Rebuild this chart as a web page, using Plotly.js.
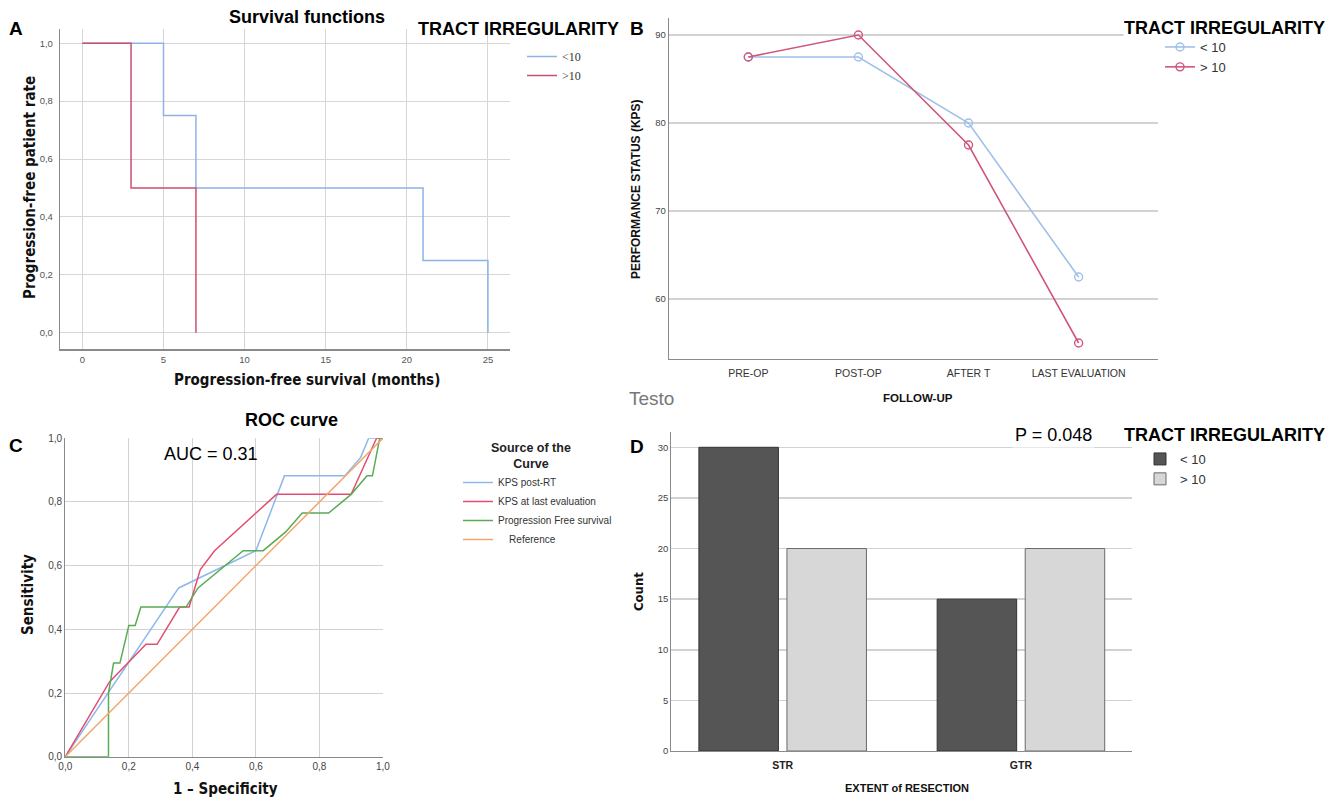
<!DOCTYPE html>
<html>
<head>
<meta charset="utf-8">
<script src="https://cdn.plot.ly/plotly-3.0.1.min.js"></script>
<style>html,body{margin:0;padding:0;background:#fff;}#chart{width:1339px;height:798px;}</style>
</head>
<body>
<div id="chart"></div>
<script>
// ---------- Panel A: Kaplan-Meier survival ----------
const kmLowTime = [0, 5, 7, 21, 25];
const kmLowSurv = [1.0, 0.75, 0.5, 0.25, 0.0];
const kmHighTime = [0, 3, 7];
const kmHighSurv = [1.0, 0.5, 0.0];
const groupNamesA = ['&lt;10', '&gt;10'];

// ---------- Panel B: KPS over follow-up ----------
const followUp = ['PRE-OP', 'POST-OP', 'AFTER T', 'LAST EVALUATION'];
const kpsLow = [87.5, 87.5, 80, 62.5];
const kpsHigh = [87.5, 90, 77.5, 55];
const groupNamesB = ['&lt; 10', '&gt; 10'];

// ---------- Panel C: ROC curves ----------
const rocPostRT_x = [0, 0.357, 0.6, 0.69, 0.88, 0.93, 0.955, 1.0];
const rocPostRT_y = [0, 0.53, 0.647, 0.882, 0.882, 0.94, 1.0, 1.0];
const rocLastEval_x = [0, 0.139, 0.254, 0.289, 0.36, 0.39, 0.425, 0.47, 0.665, 0.9, 0.98, 1.0];
const rocLastEval_y = [0, 0.235, 0.353, 0.353, 0.47, 0.47, 0.588, 0.647, 0.824, 0.824, 1.0, 1.0];
const rocPFS_x = [0, 0.136, 0.136, 0.152, 0.172, 0.2, 0.22, 0.238, 0.38, 0.418, 0.56, 0.623, 0.694, 0.746, 0.829, 0.9, 0.95, 0.967, 0.99, 1.0];
const rocPFS_y = [0, 0, 0.2, 0.294, 0.294, 0.412, 0.412, 0.47, 0.47, 0.53, 0.647, 0.647, 0.706, 0.765, 0.765, 0.824, 0.882, 0.882, 1.0, 1.0];
const rocRef_x = [0, 1];
const rocRef_y = [0, 1];
const rocNames = ['KPS post-RT', 'KPS at last evaluation', 'Progression Free survival', '    Reference'];

// ---------- Panel D: Extent of resection ----------
const resection = ['STR', 'GTR'];
const countLow = [30, 15];
const countHigh = [20, 20];
const groupNamesD = ['&lt; 10', '&gt; 10'];

const SANS = 'Liberation Sans, Arial, sans-serif';
const COND = 'DejaVu Sans Condensed, DejaVu Sans, Verdana, sans-serif';

function px(x){ return x/1339; }
function py(y){ return 1 - y/798; }
function ann(text, x, y, font, extra){
  return Object.assign({text: text, x: px(x), y: py(y), xref: 'paper', yref: 'paper', showarrow: false,
    xanchor: 'center', yanchor: 'middle', font: font}, extra || {});
}

const traces = [
  // A
  {x: kmLowTime, y: kmLowSurv, type: 'scatter', mode: 'lines', line: {shape: 'hv', color: '#8db3e6', width: 1.5},
   name: groupNamesA[0], xaxis: 'x', yaxis: 'y', legend: 'legend'},
  {x: kmHighTime, y: kmHighSurv, type: 'scatter', mode: 'lines', line: {shape: 'hv', color: '#c9506f', width: 1.5},
   name: groupNamesA[1], xaxis: 'x', yaxis: 'y', legend: 'legend'},
  // B
  {x: followUp, y: kpsLow, type: 'scatter', mode: 'lines+markers', line: {color: '#9ec0e9', width: 1.6},
   marker: {symbol: 'circle-open', size: 8, color: '#9ec0e9', line: {width: 1.4}},
   name: groupNamesB[0], xaxis: 'x2', yaxis: 'y2', legend: 'legend2'},
  {x: followUp, y: kpsHigh, type: 'scatter', mode: 'lines+markers', line: {color: '#d0567a', width: 1.6},
   marker: {symbol: 'circle-open', size: 8, color: '#d0567a', line: {width: 1.4}},
   name: groupNamesB[1], xaxis: 'x2', yaxis: 'y2', legend: 'legend2'},
  // C
  {x: rocPostRT_x, y: rocPostRT_y, type: 'scatter', mode: 'lines', line: {color: '#8cb8ec', width: 1.5},
   name: rocNames[0], xaxis: 'x3', yaxis: 'y3', legend: 'legend3'},
  {x: rocLastEval_x, y: rocLastEval_y, type: 'scatter', mode: 'lines', line: {color: '#e24f72', width: 1.5},
   name: rocNames[1], xaxis: 'x3', yaxis: 'y3', legend: 'legend3'},
  {x: rocPFS_x, y: rocPFS_y, type: 'scatter', mode: 'lines', line: {color: '#5aab55', width: 1.5},
   name: rocNames[2], xaxis: 'x3', yaxis: 'y3', legend: 'legend3'},
  {x: rocRef_x, y: rocRef_y, type: 'scatter', mode: 'lines', line: {color: '#f5a56b', width: 1.5},
   name: rocNames[3], xaxis: 'x3', yaxis: 'y3', legend: 'legend3'},
  // D
  {x: resection, y: countLow, type: 'bar', marker: {color: '#555555', line: {color: '#333333', width: 1}},
   name: groupNamesD[0], xaxis: 'x4', yaxis: 'y4', legend: 'legend4'},
  {x: resection, y: countHigh, type: 'bar', marker: {color: '#d7d7d7', line: {color: '#6a6a6a', width: 1}},
   name: groupNamesD[1], xaxis: 'x4', yaxis: 'y4', legend: 'legend4'}
];

const axBase = {zeroline: false, ticks: '', showline: true, linecolor: '#8a8a8a', linewidth: 1.2};

const layout = {
  width: 1339, height: 798,
  margin: {l: 0, r: 0, t: 0, b: 0},
  paper_bgcolor: '#ffffff', plot_bgcolor: '#ffffff',
  separators: ',.',
  showlegend: true,
  barmode: 'group', bargap: 0.261, bargroupgap: 0.097,
  // A
  xaxis: Object.assign({}, axBase, {domain: [px(60), px(510)], anchor: 'y', range: [-1.38, 26.36],
    tickvals: [0, 5, 10, 15, 20, 25], showgrid: true, gridcolor: '#d6d6d6',
    tickfont: {family: SANS, size: 9.5, color: '#555'}, ticklabelstandoff: 1}),
  yaxis: Object.assign({}, axBase, {domain: [py(349.3), py(29)], anchor: 'x', range: [-0.057, 1.049],
    tickvals: [0, 0.2, 0.4, 0.6, 0.8, 1.0], tickformat: '.1f', showgrid: true, gridcolor: '#d6d6d6',
    tickfont: {family: SANS, size: 9.5, color: '#555'}, ticklabelstandoff: 4}),
  // B
  xaxis2: Object.assign({}, axBase, {domain: [px(669), px(1157.6)], anchor: 'y2', type: 'category',
    range: [-0.72, 3.717], showgrid: false, tickfont: {family: SANS, size: 10.5, color: '#333'}, ticklabelstandoff: 4}),
  yaxis2: Object.assign({}, axBase, {domain: [py(359), py(18.3)], anchor: 'x2', range: [53.18, 91.9],
    tickvals: [60, 70, 80, 90], showgrid: true, gridcolor: '#d2d2d2', gridwidth: 1.5,
    tickfont: {family: SANS, size: 9.5, color: '#444'}}),
  // C
  xaxis3: Object.assign({}, axBase, {domain: [px(65.3), px(382.9)], anchor: 'y3', range: [0, 1],
    tickvals: [0, 0.2, 0.4, 0.6, 0.8, 1.0], tickformat: '.1f', showgrid: true, gridcolor: '#d2d2d2',
    tickfont: {family: SANS, size: 10, color: '#444'}}),
  yaxis3: Object.assign({}, axBase, {domain: [py(756.7), py(438.3)], anchor: 'x3', range: [0, 1],
    tickvals: [0, 0.2, 0.4, 0.6, 0.8, 1.0], tickformat: '.1f', showgrid: true, gridcolor: '#d2d2d2',
    tickfont: {family: SANS, size: 10, color: '#444'}}),
  // D
  xaxis4: Object.assign({}, axBase, {domain: [px(671.4), px(1131.5)], anchor: 'y4', type: 'category',
    range: [-0.467, 1.464], showgrid: false, tickfont: {family: SANS, size: 10.5, color: '#222', weight: 'bold'}, ticklabelstandoff: 4}),
  yaxis4: Object.assign({}, axBase, {domain: [py(751), py(431.7)], anchor: 'x4', range: [0, 31.54],
    tickvals: [0, 5, 10, 15, 20, 25, 30], showgrid: true, gridcolor: '#d2d2d2', gridwidth: 1.5,
    tickfont: {family: SANS, size: 9.5, color: '#444'}}),
  legend: {x: px(522), y: py(42), xanchor: 'left', yanchor: 'top', bgcolor: 'rgba(0,0,0,0)',
    font: {family: 'Liberation Serif, Times New Roman, serif', size: 12, color: '#333'}, itemwidth: 30},
  legend2: {x: px(1160), y: py(32), xanchor: 'left', yanchor: 'top', bgcolor: 'rgba(0,0,0,0)',
    font: {family: SANS, size: 13, color: '#333'}, itemwidth: 30},
  legend3: {x: px(458), y: py(468), xanchor: 'left', yanchor: 'top', bgcolor: 'rgba(0,0,0,0)',
    font: {family: SANS, size: 10, color: '#333'}, itemwidth: 30},
  legend4: {x: px(1140), y: py(444), xanchor: 'left', yanchor: 'top', bgcolor: 'rgba(0,0,0,0)',
    font: {family: SANS, size: 13, color: '#333'}, itemwidth: 30},
  annotations: [
    // A
    ann('<b>A</b>', 16, 29, {family: SANS, size: 19, color: '#000'}),
    ann('<b>Survival functions</b>', 307, 17, {family: SANS, size: 18, color: '#000'}),
    ann('<b>TRACT IRREGULARITY</b>', 518, 29, {family: SANS, size: 18, color: '#000'}),
    ann('<b>Progression-free survival (months)</b>', 307, 380, {family: COND, size: 15, color: '#111'}),
    ann('<b>Progression-free patient rate</b>', 30, 188, {family: COND, size: 15, color: '#111'}, {textangle: -90}),
    // B
    ann('<b>B</b>', 637, 28, {family: SANS, size: 19, color: '#000'}),
    ann('<b>TRACT IRREGULARITY</b>', 1224, 28, {family: SANS, size: 18, color: '#000'}, {bgcolor: '#ffffff', borderpad: 0}),
    ann('<b>PERFORMANCE STATUS (KPS)</b>', 636, 189, {family: SANS, size: 12, color: '#111'}, {textangle: -90}),
    ann('<b>FOLLOW-UP</b>', 918, 398, {family: SANS, size: 11.5, color: '#111'}),
    ann('Testo', 651, 398, {family: SANS, size: 19, color: '#777'}),
    // C
    ann('<b>C</b>', 16, 445, {family: SANS, size: 19, color: '#000'}),
    ann('<b>ROC curve</b>', 291, 420, {family: SANS, size: 18, color: '#000'}),
    ann('AUC = 0.31', 211, 454, {family: SANS, size: 18, color: '#000'}),
    ann('<b>Source of the<br>Curve</b>', 531, 456, {family: SANS, size: 12.5, color: '#222'}),
    ann('<b>1 – Specificity</b>', 225, 789, {family: COND, size: 15, color: '#111'}),
    ann('<b>Sensitivity</b>', 28, 595, {family: COND, size: 15, color: '#111'}, {textangle: -90}),
    // D
    ann('<b>D</b>', 637, 446, {family: SANS, size: 19, color: '#000'}),
    ann('P = 0.048', 1053, 435, {family: SANS, size: 18, color: '#000'}, {bgcolor: '#ffffff', borderpad: 2}),
    ann('<b>TRACT IRREGULARITY</b>', 1224, 435, {family: SANS, size: 18, color: '#000'}, {bgcolor: '#ffffff', borderpad: 0}),
    ann('<b>Count</b>', 638, 592, {family: COND, size: 13, color: '#111'}, {textangle: -90}),
    ann('<b>EXTENT of RESECTION</b>', 907, 788, {family: SANS, size: 11, color: '#111'})
  ]
};

Plotly.newPlot('chart', traces, layout, {displayModeBar: false, staticPlot: true});
</script>
</body>
</html>
